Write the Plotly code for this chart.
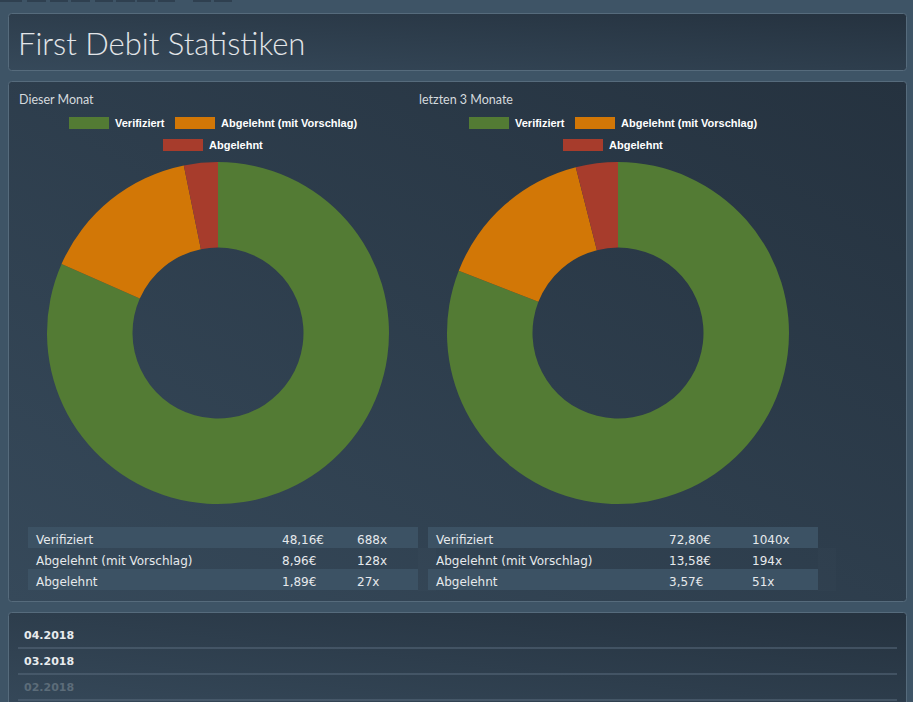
import base64
import plotly.graph_objects as go

# ---- data
labels = ["Verifiziert", "Abgelehnt (mit Vorschlag)", "Abgelehnt"]
colors = ["#537b34", "#d27706", "#a73c2c"]

counts_month = [688, 128, 27]
amounts_month = ["48,16€", "8,96€", "1,89€"]

counts_3m = [1040, 194, 51]
amounts_3m = ["72,80€", "13,58€", "3,57€"]

months = ["04.2018", "03.2018", "02.2018"]

W, H = 913, 702


def px(x):
    return x / W


def py(y):
    return 1 - y / H


# ---- background (page + panels with soft gradient)
tabs = [(0, 22), (27, 46), (50, 68), (71, 90), (95, 113), (116, 135),
        (137, 155), (158, 175), (193, 211), (214, 232)]
tab_svg = "".join('<rect x="%d" y="0" width="%d" height="2" fill="#2f4050"/>' % (a, b - a) for a, b in tabs)
panels = [(8.5, 13.5, 898, 57), (8.5, 81.5, 898, 520), (8.5, 612.5, 898, 100)]
panel_svg = "".join(
    '<rect x="%s" y="%s" width="%s" height="%s" rx="3" fill="url(#g)" stroke="#566b7c" stroke-width="1"/>' % p
    for p in panels)
svg = ('<svg xmlns="http://www.w3.org/2000/svg" width="%d" height="%d" viewBox="0 0 %d %d" preserveAspectRatio="none">'
       '<defs><linearGradient id="g" x1="0" y1="1" x2="1" y2="0">'
       '<stop offset="0" stop-color="#36495a"/><stop offset="1" stop-color="#25323f"/>'
       '</linearGradient></defs>'
       '<rect width="100%%" height="100%%" fill="#3e5466"/>%s%s</svg>') % (W, H, W, H, tab_svg, panel_svg)
bg_src = "data:image/svg+xml;base64," + base64.b64encode(svg.encode()).decode()

fig = go.Figure()

blocks = [
    dict(title="Dieser Monat", counts=counts_month, amounts=amounts_month, x0=0, colw=[246, 75, 69]),
    dict(title="letzten 3 Monate", counts=counts_3m, amounts=amounts_3m, x0=400, colw=[233, 83, 74]),
]

annotations = []
shapes = []

for b in blocks:
    x0 = b["x0"]
    # donut
    fig.add_trace(go.Pie(
        labels=labels, values=b["counts"], hole=0.5, sort=False,
        direction="clockwise", rotation=0, textinfo="none",
        marker=dict(colors=colors, line=dict(width=0)),
        domain=dict(x=[px(x0 + 47), px(x0 + 389)], y=[py(504), py(162)]),
        showlegend=False,
    ))
    # table (first row as header so stripes line up)
    rows = [[l, a, "%dx" % c] for l, a, c in zip(labels, b["amounts"], b["counts"])]
    fig.add_trace(go.Table(
        domain=dict(x=[px(x0 + 28), px(x0 + 418)], y=[py(591), py(527)]),
        columnwidth=b["colw"],
        header=dict(values=rows[0], height=21, align="left",
                    fill_color="#3c5264", line=dict(width=0),
                    font=dict(family="DejaVu Sans", size=12, color="#e6e9ec")),
        cells=dict(values=[list(col) for col in zip(*rows[1:])], height=21, align="left",
                   fill_color=[["rgba(0,0,0,0)", "#3c5264"]] * 3, line=dict(width=0),
                   font=dict(family="DejaVu Sans", size=12, color="#e6e9ec")),
    ))
    # subtitle
    annotations.append(dict(x=px(x0 + 17), y=py(100), xref="paper", yref="paper", text=b["title"],
                            showarrow=False, xanchor="left", yanchor="middle",
                            font=dict(family="Lato", size=12.5, color="#d5dade")))
    # legend
    leg = [(x0 + 69, 123), (x0 + 175, 123), (x0 + 163, 145)]
    for (lx, ly), lab, col in zip(leg, labels, colors):
        shapes.append(dict(type="rect", xref="paper", yref="paper", x0=px(lx), x1=px(lx + 40),
                           y0=py(ly + 6), y1=py(ly - 6), fillcolor=col, line=dict(width=0)))
        annotations.append(dict(x=px(lx + 44), y=py(ly), xref="paper", yref="paper", text=lab,
                                showarrow=False, xanchor="left", yanchor="middle",
                                font=dict(family="Liberation Sans", size=11, color="#ffffff", weight="bold")))

# title
annotations.append(dict(x=px(16), y=py(43), xref="paper", yref="paper", text="First Debit Statistiken",
                        showarrow=False, xanchor="left", yanchor="middle",
                        font=dict(family="Lato", size=31, color="#e2e5e8", weight=300)))

# month list
month_colors = ["#e8ebee", "#e8ebee", "#5c6c79"]
for i, (m, c) in enumerate(zip(months, month_colors)):
    yc = 635 + 26 * i
    annotations.append(dict(x=px(22), y=py(yc), xref="paper", yref="paper", text="<b>%s</b>" % m,
                            showarrow=False, xanchor="left", yanchor="middle",
                            font=dict(family="DejaVu Sans", size=11, color=c)))
    shapes.append(dict(type="line", xref="paper", yref="paper", x0=px(18), x1=px(897),
                       y0=py(yc + 13), y1=py(yc + 13), line=dict(color="#5a6d7e", width=1)))

fig.update_layout(
    width=W, height=H,
    margin=dict(l=0, r=0, t=0, b=0),
    paper_bgcolor="#3e5466",
    plot_bgcolor="rgba(0,0,0,0)",
    images=[dict(source=bg_src, xref="paper", yref="paper", x=0, y=1, sizex=1, sizey=1,
                 sizing="stretch", layer="below", xanchor="left", yanchor="top")],
    shapes=shapes,
    annotations=annotations,
)

fig.write_html("out.html", config=dict(displayModeBar=False),
               post_script="document.body.style.margin='0';document.body.style.overflow='hidden';")
